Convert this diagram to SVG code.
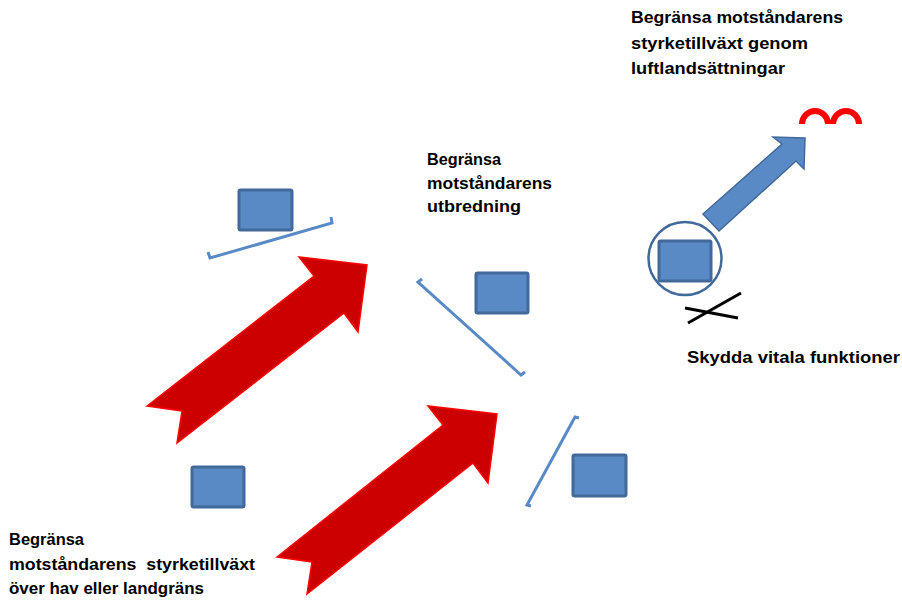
<svg xmlns="http://www.w3.org/2000/svg" width="902" height="600" viewBox="0 0 902 600">
<style>
.unit{fill:#5A8AC6;stroke:#41699A;stroke-width:3}
.redarrow{fill:#CC0000;stroke:#FF0000;stroke-width:1.5;stroke-linejoin:miter}
.bluearrow{fill:#5A8AC6;stroke:#41699A;stroke-width:1.5}
.bracket{fill:none;stroke:#5A8AC6;stroke-width:3;stroke-linejoin:miter}
.lbl{font-family:"Liberation Sans",Arial,sans-serif;font-weight:bold;font-size:17px;fill:#000}
</style>
<rect width="902" height="600" fill="#fff"/>
<g id="unit-topleft"><rect class="unit" x="239" y="190" width="53" height="40" rx="1.5"/></g>
<g id="unit-middle"><rect class="unit" x="476" y="273" width="52" height="40" rx="1.5"/></g>
<g id="unit-lowright"><rect class="unit" x="573" y="455" width="53" height="41" rx="1.5"/></g>
<g id="unit-bottomleft"><rect class="unit" x="192" y="467" width="52" height="40" rx="1.5"/></g>
<g id="unit-circled">
<circle cx="685" cy="258.5" r="36.5" fill="none" stroke="#41699A" stroke-width="2.5"/>
<rect class="unit" x="659" y="241" width="52" height="40" rx="1.5"/>
</g>
<g id="bracket-top"><path class="bracket" d="M208,252 L210,258 L332,223 L331,217"/></g>
<g id="bracket-middle"><path class="bracket" d="M422,279 L418,282 L521,375 L525,372"/></g>
<g id="bracket-low"><path class="bracket" d="M579,418 L575,417 L527,505 L531,506"/></g>
<g id="cross">
<line x1="685" y1="308" x2="738" y2="318" stroke="#000" stroke-width="3"/>
<line x1="688" y1="323" x2="741" y2="293" stroke="#000" stroke-width="3"/>
</g>
<g id="airborne"><path d="M802,124 A13,13 0 0 1 828,124 M833,124 A13,13 0 0 1 859,124" fill="none" stroke="#FF0000" stroke-width="6"/></g>
<g id="connectors">
<polygon class="redarrow" points="147,406 314,276 299,257 367,265 358,332 344,313 177,443 182,411"/>
<polygon class="redarrow" points="277,557 443,425 428,406 497,414 488,483 473,463 307,594 312,562"/>
<polygon class="bluearrow" points="703,214 782,144 773,137 805,138 804,169 796,161 719,231"/>
</g>
<g id="labels">
<text class="lbl" x="631" y="23" textLength="212" lengthAdjust="spacingAndGlyphs">Begränsa  motståndarens</text>
<text class="lbl" x="631" y="49" textLength="177" lengthAdjust="spacingAndGlyphs">styrketillväxt  genom</text>
<text class="lbl" x="631" y="74" textLength="154" lengthAdjust="spacingAndGlyphs">luftlandsättningar</text>
<text class="lbl" x="427" y="165" textLength="74" lengthAdjust="spacingAndGlyphs">Begränsa</text>
<text class="lbl" x="427" y="188.5" textLength="125" lengthAdjust="spacingAndGlyphs">motståndarens</text>
<text class="lbl" x="427" y="212" textLength="94" lengthAdjust="spacingAndGlyphs">utbredning</text>
<text class="lbl" x="687" y="363" textLength="213" lengthAdjust="spacingAndGlyphs">Skydda vitala funktioner</text>
<text class="lbl" x="9" y="545" textLength="75" lengthAdjust="spacingAndGlyphs">Begränsa</text>
<text class="lbl" x="9" y="570" textLength="246" lengthAdjust="spacingAndGlyphs" style="white-space:pre">motståndarens  styrketillväxt</text>
<text class="lbl" x="9" y="594" textLength="195" lengthAdjust="spacingAndGlyphs">över hav eller landgräns</text>
</g>
</svg>
